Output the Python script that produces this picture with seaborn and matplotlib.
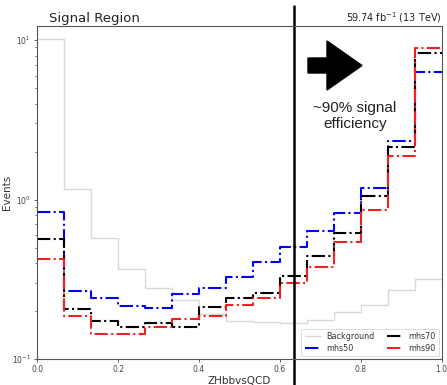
import numpy as np
import pandas as pd
import seaborn as sns
import matplotlib
matplotlib.use("Agg")
import matplotlib.pyplot as plt
from matplotlib.patches import FancyArrow

# ---- data (15 equal bins on ZHbbvsQCD in [0, 1]) ----
n_bins = 15
x_range = (0.0, 1.0)
background = [10.2, 1.17, 0.575, 0.369, 0.277, 0.234, 0.191, 0.174, 0.170, 0.169,
              0.176, 0.196, 0.218, 0.271, 0.316]
mhs50 = [0.838, 0.267, 0.240, 0.216, 0.210, 0.255, 0.277, 0.327, 0.406, 0.503,
         0.634, 0.818, 1.18, 2.34, 6.34]
mhs70 = [0.562, 0.205, 0.172, 0.158, 0.169, 0.159, 0.212, 0.240, 0.261, 0.332,
         0.442, 0.619, 1.06, 2.15, 8.26]
mhs90 = [0.422, 0.185, 0.143, 0.143, 0.158, 0.178, 0.185, 0.218, 0.240, 0.299,
         0.377, 0.541, 0.866, 1.87, 8.95]
series_names = ["Background", "mhs50", "mhs70", "mhs90"]
xticks = [0.0, 0.2, 0.4, 0.6, 0.8, 1.0]
cut_value = 0.636

sns.set_style("ticks")
plt.rcParams["font.family"] = ["DejaVu Sans"]

bin_edges = np.linspace(x_range[0], x_range[1], n_bins + 1)
centers = 0.5 * (bin_edges[:-1] + bin_edges[1:])
df = pd.DataFrame({
    "x": np.tile(centers, 4),
    "w": np.concatenate([background, mhs50, mhs70, mhs90]),
    "series": np.repeat(series_names, len(centers)),
})

fig = plt.figure(figsize=(4.47, 3.85), dpi=100)
ax = fig.add_axes([0.0835, 0.0675, 0.9045, 0.8655])

styles = {
    "Background": dict(color="#d9d9d9", linestyle="-", linewidth=1.0),
    "mhs50": dict(color="blue", linestyle="-.", linewidth=1.5),
    "mhs70": dict(color="black", linestyle="-.", linewidth=1.5),
    "mhs90": dict(color="#ee2222", linestyle="-.", linewidth=1.5),
}
for name in series_names:
    sub = df[df["series"] == name]
    sns.histplot(data=sub, x="x", weights="w", bins=n_bins, binrange=x_range,
                 element="step", fill=False, ax=ax, label=name, **styles[name])

ax.set_yscale("log")
ax.set_xlim(0, 1)
ax.set_ylim(0.1, 12.3)
ax.set_xticks(xticks)
ax.set_xticklabels([f"{t:.1f}" for t in xticks])
ax.tick_params(axis="both", which="major", labelsize=5.5, length=2.5, width=0.6,
               pad=2, colors="#444444")
ax.tick_params(axis="y", which="minor", length=1.8, width=0.5, colors="#444444")
for s in ax.spines.values():
    s.set_color("#555555")
    s.set_linewidth(0.8)
ax.set_xlabel("ZHbbvsQCD", fontsize=7.5, color="#333333", labelpad=1)
ax.set_ylabel("Events", fontsize=7.5, color="#333333", labelpad=0)

handles, labels = ax.get_legend_handles_labels()
order = [labels.index(n) for n in ["Background", "mhs50", "mhs70", "mhs90"]]
leg = ax.legend([handles[i] for i in order], [labels[i] for i in order],
                ncol=2, loc="lower right", fontsize=5.8, frameon=True,
                borderaxespad=0.35, handlelength=2.0, columnspacing=1.6,
                labelspacing=0.3, borderpad=0.45, handletextpad=0.6)
leg.get_frame().set_edgecolor("#cccccc")
leg.get_frame().set_linewidth(0.6)
for t in leg.get_texts():
    t.set_color("#333333")

ax.set_title("Signal Region", loc="left", fontsize=9.5, pad=2, color="#222222", x=0.03)
ax.set_title(r"59.74 fb$^{-1}$ (13 TeV)", loc="right", fontsize=7, pad=3, color="#222222")

# vertical cut line, extending beyond axes
ax.axvline(cut_value, ymin=-0.08, ymax=1.06, color="black", linewidth=1.8, clip_on=False)

# block arrow and annotation
arrow = FancyArrow(3.08, 3.195, 0.54, 0.0, width=0.15, head_width=0.49, head_length=0.35,
                   length_includes_head=True, transform=fig.dpi_scale_trans,
                   color="black", zorder=10)
fig.add_artist(arrow)
fig.text(0.794, 0.699, "~90% signal\nefficiency", ha="center", va="center",
         fontsize=11, family=["Liberation Sans", "DejaVu Sans"], color="#222222",
         linespacing=1.25)

fig.savefig("out.png", dpi=100)
